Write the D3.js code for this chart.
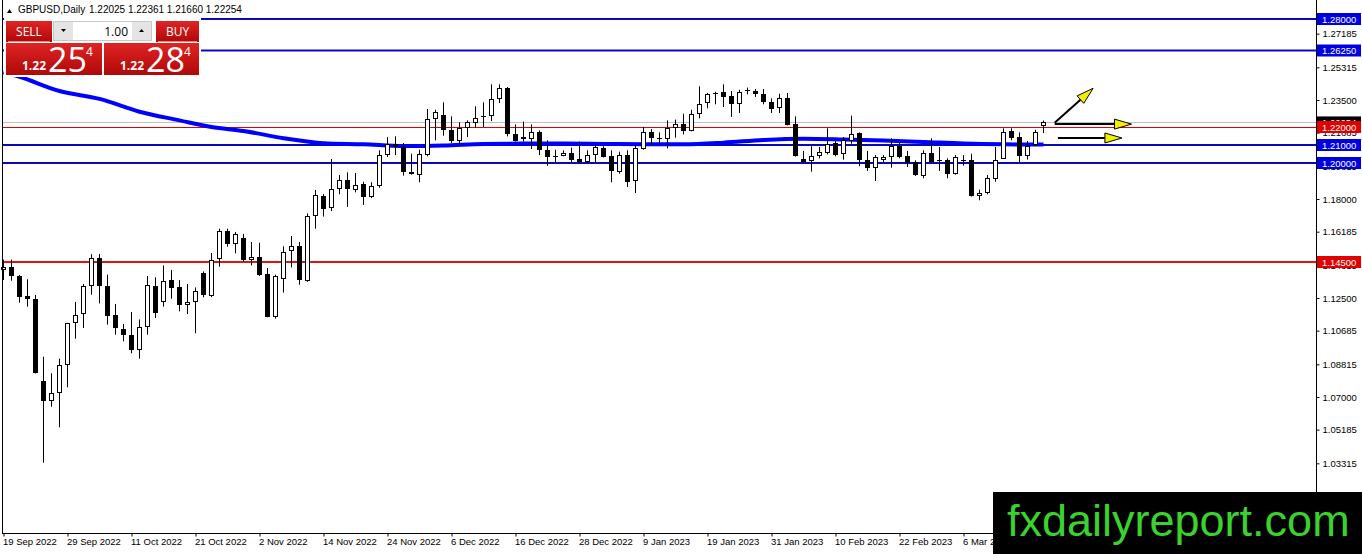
<!DOCTYPE html>
<html>
<head>
<meta charset="utf-8">
<script src="https://cdn.jsdelivr.net/npm/d3@7"></script>
<style>
  body { margin: 0; background: #fff; }
  svg { display: block; font-family: "Liberation Sans", Arial, sans-serif; }
</style>
</head>
<body>
<svg id="chart"></svg>
<script>
// GBPUSD daily bars (index 0 = 19 Sep 2022)
const opens  = [1.1402,1.1420,1.1372,1.1261,1.1243,1.0787,1.0676,1.0720,1.0876,1.1109,
                1.1161,1.1317,1.1470,1.1317,1.1154,1.1076,1.1043,1.0957,1.1087,1.1317,
                1.1231,1.1350,1.1309,1.1209,1.1228,1.1387,1.1265,1.1463,1.1621,1.1550,
                1.1583,1.1457,1.1480,1.1383,1.1146,1.1357,1.1511,1.1537,1.1346,1.1706,
                1.1817,1.1748,1.1856,1.1904,1.1852,1.1885,1.1811,1.1874,1.2044,1.2104,
                1.2089,1.1948,1.1937,1.2044,1.2244,1.2267,1.2181,1.2119,1.2193,1.2226,
                1.2259,1.2259,1.2356,1.2419,1.2163,1.2144,1.2133,1.2170,1.2070,1.2041,
                1.2041,1.2056,1.2022,1.2007,1.2044,1.2085,1.2037,1.1952,1.2044,1.1896,
                1.2078,1.2170,1.2141,1.2137,1.2196,1.2219,1.2181,1.2274,1.2330,1.2389,
                1.2393,1.2370,1.2326,1.2404,1.2400,1.2381,1.2337,1.2304,1.2359,1.2215,
                1.2022,1.2007,1.2037,1.2059,1.2111,1.2048,1.2126,1.2167,1.2019,1.1974,
                1.2015,1.2033,1.2096,1.2037,1.2004,1.1930,1.2056,1.2015,1.2015,1.1937,
                1.2019,1.2015,1.1815,1.1833,1.1915,1.2026,1.2178,1.2144,1.2041,1.2096,
                1.22025];
const highs  = [1.1463,1.1463,1.1378,1.1354,1.1267,1.0924,1.0832,1.0913,1.1112,1.1228,
                1.1328,1.1493,1.1494,1.1380,1.1217,1.1106,1.1172,1.1131,1.1372,1.1365,
                1.1431,1.1406,1.1350,1.1328,1.1309,1.1398,1.1500,1.1635,1.1635,1.1617,
                1.1606,1.1561,1.1557,1.1417,1.1380,1.1537,1.1594,1.1561,1.1720,1.1850,
                1.1828,1.2022,1.1933,1.1948,1.1944,1.1896,1.1893,1.2070,1.2144,1.2148,
                1.2111,1.2052,1.2074,1.2300,1.2296,1.2337,1.2259,1.2226,1.2237,1.2315,
                1.2337,1.2437,1.2437,1.2422,1.2215,1.2230,1.2215,1.2181,1.2126,1.2074,
                1.2070,1.2085,1.2119,1.2070,1.2104,1.2093,1.2070,1.2063,1.2070,1.2100,
                1.2200,1.2189,1.2170,1.2237,1.2241,1.2274,1.2296,1.2426,1.2389,1.2396,
                1.2437,1.2400,1.2407,1.2419,1.2411,1.2411,1.2359,1.2385,1.2389,1.2259,
                1.2067,1.2093,1.2089,1.2193,1.2122,1.2144,1.2263,1.2170,1.2067,1.2044,
                1.2044,1.2137,1.2115,1.2067,1.2015,1.2070,1.2137,1.2089,1.2026,1.2044,
                1.2044,1.2052,1.1852,1.1933,1.2089,1.2193,1.2193,1.2170,1.2122,1.2185,
                1.22361];
const lows   = [1.1350,1.1346,1.1224,1.1202,1.0830,1.0335,1.0646,1.0532,1.0754,1.1024,
                1.1083,1.1268,1.1220,1.1102,1.1046,1.1009,1.0943,1.0913,1.1046,1.1139,
                1.1202,1.1246,1.1176,1.1161,1.1054,1.1254,1.1255,1.1424,1.1535,1.1498,
                1.1450,1.1431,1.1372,1.1143,1.1135,1.1280,1.1420,1.1324,1.1340,1.1635,
                1.1702,1.1733,1.1826,1.1756,1.1837,1.1767,1.1805,1.1863,1.2033,1.2044,
                1.1930,1.1935,1.1893,1.2037,1.2126,1.2152,1.2111,1.2107,1.2144,1.2196,
                1.2200,1.2233,1.2333,1.2148,1.2119,1.2119,1.2078,1.2044,1.1985,1.2004,
                1.2037,1.2004,1.2000,1.2000,1.2004,1.2030,1.1893,1.1941,1.1867,1.1833,
                1.2074,1.2104,1.2104,1.2081,1.2141,1.2159,1.2176,1.2248,1.2304,1.2326,
                1.2311,1.2256,1.2278,1.2381,1.2367,1.2326,1.2278,1.2278,1.2209,1.2035,
                1.2005,1.1952,1.2026,1.2048,1.2037,1.2019,1.2107,1.1982,1.1956,1.1900,
                1.2004,1.1974,1.2026,1.1978,1.1928,1.1915,1.2005,1.1956,1.1915,1.1935,
                1.1985,1.1813,1.1793,1.1826,1.1896,1.2024,1.2126,1.2004,1.2019,1.2094,
                1.21660];
const closes = [1.1420,1.1372,1.1257,1.1243,1.0832,1.0676,1.0720,1.0876,1.1109,1.1154,
                1.1317,1.1470,1.1313,1.1150,1.1080,1.1043,1.0957,1.1087,1.1320,1.1168,
                1.1346,1.1306,1.1209,1.1228,1.1287,1.1265,1.1463,1.1621,1.1546,1.1606,
                1.1461,1.1476,1.1380,1.1146,1.1372,1.1507,1.1537,1.1346,1.1706,1.1824,
                1.1746,1.1856,1.1904,1.1856,1.1878,1.1811,1.1874,1.2044,1.2104,1.2088,
                1.1948,1.1937,1.2052,1.2244,1.2281,1.2181,1.2119,1.2193,1.2226,1.2252,
                1.2252,1.2356,1.2415,1.2163,1.2126,1.2133,1.2170,1.2070,1.2033,1.2033,
                1.2056,1.2015,1.2007,1.2044,1.2089,1.2037,1.1952,1.2044,1.1896,1.2081,
                1.2170,1.2137,1.2137,1.2196,1.2219,1.2181,1.2274,1.2330,1.2381,1.2381,
                1.2363,1.2326,1.2393,1.2396,1.2381,1.2337,1.2300,1.2359,1.2211,1.2037,
                1.2007,1.2037,1.2059,1.2107,1.2044,1.2126,1.2163,1.2019,1.1974,1.2033,
                1.2033,1.2096,1.2033,1.2000,1.1930,1.2056,1.2007,1.2007,1.1937,1.2033,
                1.2011,1.1815,1.1833,1.1915,1.2019,1.2174,1.2141,1.2041,1.2096,1.2170,
                1.22254];

// moving average, sampled at a few bars
const maIdx  = [0, 2, 7, 12, 17, 22, 26, 30, 35, 40, 45, 50, 55, 60, 65, 70, 75, 80, 85, 90, 95, 100, 105, 110, 115, 120, 125, 130];
const maVals = [1.2504,1.2479,1.2400,1.2356,1.2285,1.2237,1.2200,1.2178,1.2138,1.2110,1.2104,1.2094,1.2097,1.2106,1.2108,1.2108,1.2106,1.2104,1.2104,1.2113,1.2128,1.2135,1.2131,1.2125,1.2117,1.2108,1.2104,1.2103];

// levels drawn across the chart
const blueLevels = [1.28, 1.2625, 1.21, 1.20];
const redLevels  = [1.145];
const thinRed    = 1.22;
const bidPrice   = 1.22254;

const priceTicks = [1.27185,1.25315,1.23500,1.21685,1.19815,1.18000,1.16185,1.14315,1.12500,1.10685,1.08815,1.07000,1.05185,1.03315];
const dateIdx    = [0, 8, 16, 24, 32, 40, 48, 56, 64, 72, 80, 88, 96, 104, 112, 120];
const dateLabels = ["19 Sep 2022","29 Sep 2022","11 Oct 2022","21 Oct 2022","2 Nov 2022","14 Nov 2022","24 Nov 2022","6 Dec 2022","16 Dec 2022","28 Dec 2022","9 Jan 2023","19 Jan 2023","31 Jan 2023","10 Feb 2023","22 Feb 2023","6 Mar 2023"];

// arrows: [fromBar, fromPrice, toBar, toPrice]
const arrows = [[131.4, 1.2224, 136.2, 1.2415], [131.4, 1.2216, 141.0, 1.2216], [131.8, 1.2139, 139.8, 1.2139]];

const width = 1362, height = 554;
const plotRight = 1316, plotBottom = 533;

const svg = d3.select("#chart").attr("width", width).attr("height", height);

const x = d3.scaleLinear().domain([0, 130]).range([3.5, 1043.5]);
const y = d3.scaleLinear().domain([1.20, 1.28]).range([163, 19]);
const crisp = v => Math.round(y(v)) + 0.5;

// level lines
const levels = svg.append("g");
levels.append("line")
  .attr("x1", 2).attr("x2", plotRight).attr("y1", crisp(bidPrice)).attr("y2", crisp(bidPrice))
  .attr("stroke", "#c0c0c0").attr("stroke-width", 1);
levels.append("line")
  .attr("x1", 2).attr("x2", plotRight).attr("y1", crisp(thinRed)).attr("y2", crisp(thinRed))
  .attr("stroke", "#e00000").attr("stroke-width", 1);
levels.selectAll(".blue").data(blueLevels).join("line")
  .attr("x1", 2).attr("x2", plotRight).attr("y1", d => y(d)).attr("y2", d => y(d))
  .attr("stroke", "#0a0ab4").attr("stroke-width", 2);
levels.selectAll(".red").data(redLevels).join("line")
  .attr("x1", 2).attr("x2", plotRight).attr("y1", d => y(d)).attr("y2", d => y(d))
  .attr("stroke", "#e81010").attr("stroke-width", 2);

// moving average
const maLine = d3.line().x(d => x(d[0])).y(d => y(d[1])).curve(d3.curveMonotoneX);
svg.append("path")
  .datum(maIdx.map((d, i) => [d, maVals[i]]))
  .attr("d", maLine)
  .attr("fill", "none").attr("stroke", "#0000ff").attr("stroke-width", 4);

// candles
const bars = d3.range(opens.length);
const g = svg.append("g");
g.selectAll(".wick").data(bars).join("line")
  .attr("x1", i => x(i)).attr("x2", i => x(i))
  .attr("y1", i => y(highs[i])).attr("y2", i => y(lows[i]))
  .attr("stroke", "#000").attr("stroke-width", 1);
g.selectAll(".body").data(bars).join("rect")
  .attr("x", i => x(i) - 2)
  .attr("width", 4)
  .attr("y", i => Math.round(y(Math.max(opens[i], closes[i]))) + 0.5)
  .attr("height", i => Math.max(0.01, Math.round(Math.abs(y(opens[i]) - y(closes[i]))) - 1))
  .attr("fill", i => closes[i] >= opens[i] ? "#fff" : "#000")
  .attr("stroke", "#000").attr("stroke-width", 1);

// arrows
const ag = svg.append("g");
arrows.forEach(a => {
  const x1 = x(a[0]), y1 = y(a[1]), x2 = x(a[2]), y2 = y(a[3]);
  const ang = Math.atan2(y2 - y1, x2 - x1);
  const L = 17, W = 5;
  const bx = x2 - L * Math.cos(ang), by = y2 - L * Math.sin(ang);
  ag.append("line").attr("x1", x1).attr("y1", y1).attr("x2", bx).attr("y2", by)
    .attr("stroke", "#000").attr("stroke-width", 2);
  const p = [[x2, y2],
             [bx - W * Math.sin(ang), by + W * Math.cos(ang)],
             [bx + W * Math.sin(ang), by - W * Math.cos(ang)]];
  ag.append("polygon").attr("points", p.map(q => q.join(",")).join(" "))
    .attr("fill", "#f0f000").attr("stroke", "#000").attr("stroke-width", 1);
});

// frame
svg.append("line").attr("x1", 2.5).attr("x2", 2.5).attr("y1", 0).attr("y2", plotBottom)
  .attr("stroke", "#000");
svg.append("line").attr("x1", plotRight + 0.5).attr("x2", plotRight + 0.5).attr("y1", 0).attr("y2", plotBottom + 0.5)
  .attr("stroke", "#000");
svg.append("line").attr("x1", 2).attr("x2", plotRight + 1).attr("y1", plotBottom + 0.5).attr("y2", plotBottom + 0.5)
  .attr("stroke", "#000");

// price axis
const yAxis = d3.axisRight(y).tickValues(priceTicks).tickFormat(d3.format(".5f")).tickSize(3).tickPadding(3);
const ya = svg.append("g").attr("transform", `translate(${plotRight + 0.5},0)`).call(yAxis);
ya.select(".domain").remove();
ya.selectAll("text").attr("font-family", "Liberation Sans, Arial, sans-serif").attr("font-size", 9.5).attr("fill", "#000");

// price labels for levels
function priceTag(v, color) {
  const t = svg.append("g").attr("transform", `translate(${plotRight + 1},${y(v)})`);
  t.append("rect").attr("x", 0).attr("y", -6).attr("width", 44).attr("height", 12).attr("fill", color);
  t.append("text").attr("x", 5).attr("y", 3.5).attr("font-size", 9.5).attr("fill", "#fff")
    .text(d3.format(".5f")(v));
}
priceTag(bidPrice, "#000");
priceTag(thinRed, "#e00000");
blueLevels.forEach(v => priceTag(v, "#0000e0"));
redLevels.forEach(v => priceTag(v, "#e00000"));

// date axis
const xAxis = d3.axisBottom(x).tickValues(dateIdx).tickFormat((d, i) => dateLabels[i]).tickSize(3).tickPadding(2);
const xa = svg.append("g").attr("transform", `translate(0,${plotBottom + 0.5})`).call(xAxis);
xa.select(".domain").remove();
xa.selectAll("text").attr("text-anchor", "start").attr("x", -1)
  .attr("font-family", "Liberation Sans, Arial, sans-serif").attr("font-size", 9.5).attr("fill", "#000");

// header
svg.append("path").attr("d", "M7,13 L12,13 L9.5,9 Z").attr("fill", "#000");
svg.append("text").attr("x", 18).attr("y", 13).attr("font-size", 10).text("GBPUSD,Daily");
svg.append("text").attr("x", 89).attr("y", 13).attr("font-size", 10)
  .text(`${opens[130].toFixed(5)} ${highs[130].toFixed(5)} ${lows[130].toFixed(5)} ${closes[130].toFixed(5)}`);

// one-click trading panel
const defs = svg.append("defs");
const grad = defs.append("linearGradient").attr("id", "red").attr("x1", 0).attr("x2", 0).attr("y1", 0).attr("y2", 1);
grad.append("stop").attr("offset", "0%").attr("stop-color", "#e02424");
grad.append("stop").attr("offset", "100%").attr("stop-color", "#b00808");

const panel = svg.append("g");
panel.append("rect").attr("x", 4).attr("y", 18).attr("width", 197).attr("height", 59).attr("fill", "#fff");
panel.append("rect").attr("x", 6).attr("y", 21).attr("width", 46).attr("height", 21).attr("fill", "url(#red)");
panel.append("line").attr("x1", 8).attr("x2", 50).attr("y1", 41.5).attr("y2", 41.5).attr("stroke", "#f08080");
panel.append("text").attr("x", 29).attr("y", 35.5).attr("text-anchor", "middle").attr("font-size", 12)
  .attr("font-family", "Open Sans, sans-serif").attr("fill", "#fff").text("SELL");
panel.append("rect").attr("x", 53.5).attr("y", 21.5).attr("width", 98).attr("height", 19)
  .attr("fill", "#fff").attr("stroke", "#c8c8c8");
panel.append("rect").attr("x", 54).attr("y", 22).attr("width", 19).attr("height", 18).attr("fill", "#e4e4e4");
panel.append("rect").attr("x", 132).attr("y", 22).attr("width", 19).attr("height", 18).attr("fill", "#e4e4e4");
panel.append("path").attr("d", "M61,29 L66,29 L63.5,32 Z").attr("fill", "#000");
panel.append("path").attr("d", "M139,32 L144,32 L141.5,29 Z").attr("fill", "#000");
panel.append("text").attr("x", 128).attr("y", 35.5).attr("text-anchor", "end").attr("font-size", 12)
  .attr("font-family", "Open Sans, sans-serif").attr("fill", "#000").text("1.00");
panel.append("rect").attr("x", 156).attr("y", 21).attr("width", 43).attr("height", 21).attr("fill", "url(#red)");
panel.append("line").attr("x1", 158).attr("x2", 197).attr("y1", 41.5).attr("y2", 41.5).attr("stroke", "#f08080");
panel.append("text").attr("x", 177.5).attr("y", 35.5).attr("text-anchor", "middle").attr("font-size", 12)
  .attr("font-family", "Open Sans, sans-serif").attr("fill", "#fff").text("BUY");

function quote(x0, w, big, sup) {
  panel.append("rect").attr("x", x0).attr("y", 43).attr("width", w).attr("height", 32).attr("fill", "url(#red)");
  panel.append("text").attr("x", x0 + 16).attr("y", 70).attr("font-size", 12).attr("font-weight", "bold")
    .attr("font-family", "Open Sans, sans-serif").attr("fill", "#fff").text("1.22");
  panel.append("text").attr("x", x0 + 42).attr("y", 72).attr("font-size", 34)
    .attr("font-family", "Open Sans, sans-serif").attr("fill", "#fff").text(big);
  panel.append("text").attr("x", x0 + 80).attr("y", 56).attr("font-size", 12)
    .attr("font-family", "Open Sans, sans-serif").attr("fill", "#fff").text(sup);
}
quote(6, 96, "25", "4");
quote(104, 95, "28", "4");

// logo
svg.append("rect").attr("x", 993).attr("y", 492).attr("width", 369).attr("height", 62).attr("fill", "#000");
svg.append("text").attr("x", 1007).attr("y", 536).attr("font-size", 45)
  .attr("font-family", "Liberation Sans, Arial, sans-serif").attr("fill", "#3ad22e").text("fxdailyreport.com");
</script>
</body>
</html>
